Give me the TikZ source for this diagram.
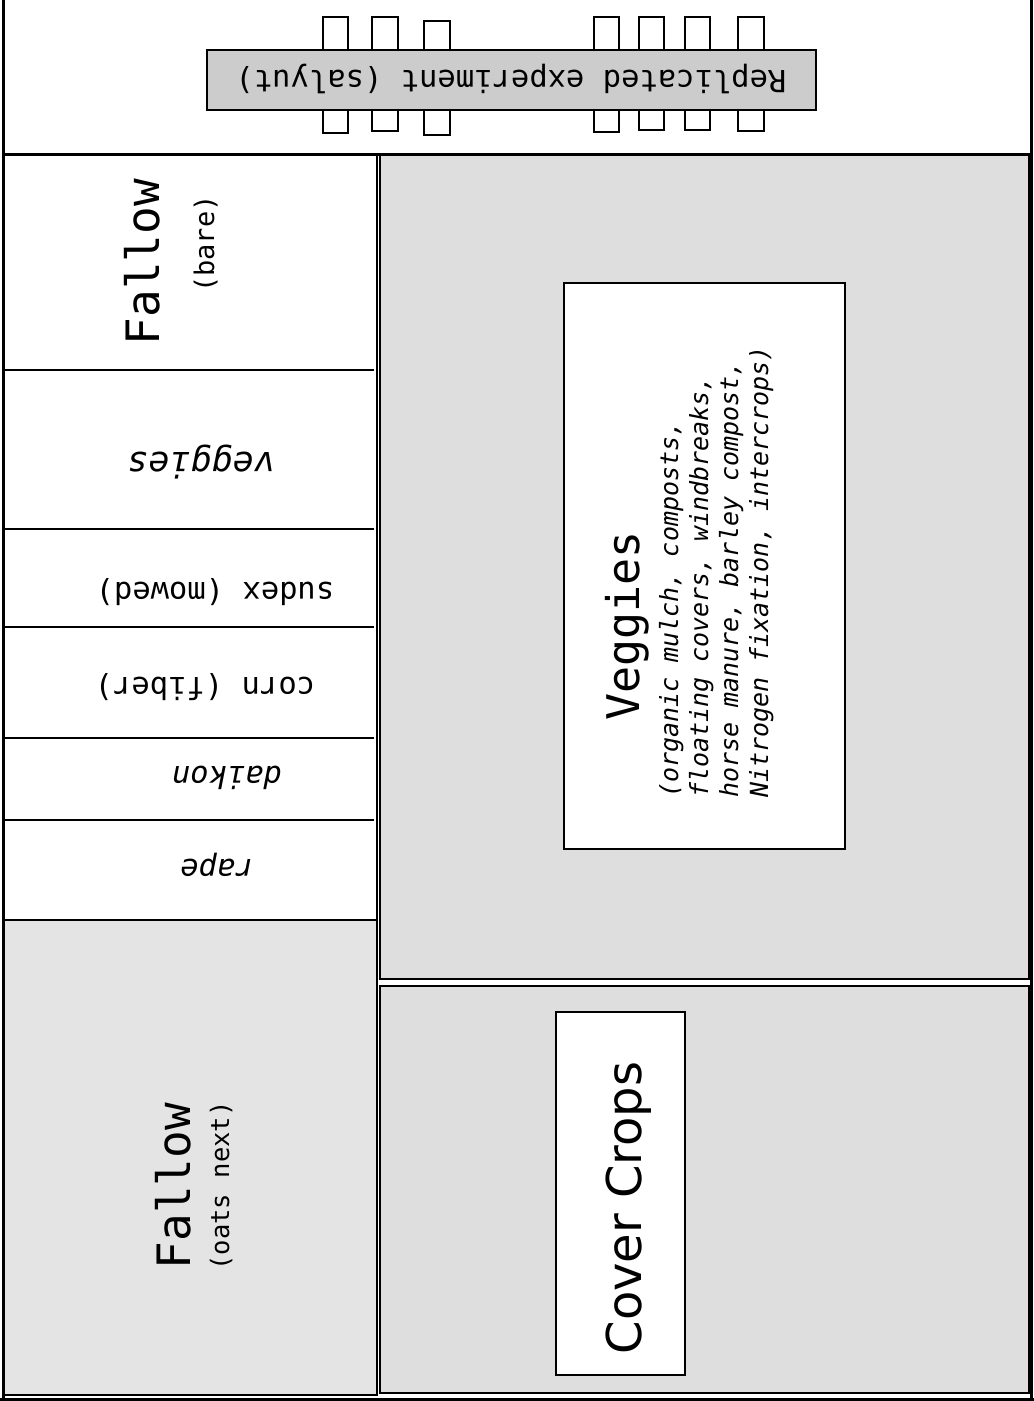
\documentclass[tikz,border=0pt]{standalone}
\usepackage{fontspec}
\setmainfont{DejaVu Sans Mono}
\newfontfamily\propfont{DejaVu Sans}
\newcommand\sz[1]{\fontsize{#1}{#1}\selectfont}
\definecolor{barGray}{HTML}{CCCCCC}
\definecolor{plotGray}{HTML}{DEDEDE}
\definecolor{fallowGray}{HTML}{E4E4E4}
\begin{document}
\begin{tikzpicture}[x=1pt,y=-1pt,
  rule/.style={line width=2pt, draw=black},
  heavy/.style={line width=3pt, draw=black},
  tab/.style={rule, fill=white},
  txt/.style={inner sep=0pt, anchor=base},
  upr/.style={txt, rotate=90},
  flip/.style={txt, rotate=180},
]
\useasboundingbox (0,0) rectangle (1034,1401);
\fill[white] (0,0) rectangle (1034,1401);

% plot tabs above and below the experiment strip
\foreach \a/\b/\t in {323/348/17, 372/398/17, 424/450/21, 594/619/17, 639/664/17, 685/710/17, 738/764/17}
  \draw[tab] (\a,\t) rectangle (\b,50);
\foreach \a/\b/\t in {323/348/133, 372/398/131, 424/450/135, 594/619/132, 639/664/130, 685/710/130, 738/764/131}
  \draw[tab] (\a,110) rectangle (\b,\t);
\draw[rule, fill=barGray] (207,50) rectangle (816,110);
\node[flip] (bar) at (511,70) {\sz{30.5}Replicated experiment (salyut)};

% left column of strips
\draw[rule, fill=fallowGray] (3,920) rectangle (377,1395);
\draw[rule] (3,154) rectangle (377,920);
\foreach \y in {370,529,627,738,820}
  \draw[rule] (3,\y) -- (374,\y);

\node[upr] (fallowA) at (159,262) {\sz{46}Fallow};
\node[upr] (bare) at (214,244) {\sz{27}(bare)};
\node[flip] (vegL) at (201,452) {\sz{35}\itshape veggies};
\node[flip] (sudex) at (215,582) {\sz{30.5}sudex (mowed)};
\node[flip] (corn) at (205,677) {\sz{30.5}corn (fiber)};
\node[flip] (daikon) at (227,766) {\sz{30.5}\itshape daikon};
\node[flip] (rape) at (217,859) {\sz{30.5}\itshape rape};
\node[upr] (fallowB) at (190,1186) {\sz{46}Fallow};
\node[upr] (oats) at (229,1186) {\sz{25.5}(oats next)};

% right column: vegetable block and cover crop block
\draw[rule, fill=plotGray] (380,154) rectangle (1029,979);
\draw[rule, fill=plotGray] (380,986) rectangle (1029,1393);
\draw[rule, fill=white] (564,283) rectangle (845,849);
\draw[rule, fill=white] (556,1012) rectangle (685,1375);

\node[upr] (vegT) at (639,626) {\sz{45}Veggies};
\node[txt, rotate=90, anchor=base west] (l1) at (678,798) {\sz{25}\itshape (organic mulch, composts,};
\node[txt, rotate=90, anchor=base west] (l2) at (708,798) {\sz{25}\itshape floating covers, windbreaks,};
\node[txt, rotate=90, anchor=base west] (l3) at (738,798) {\sz{25}\itshape horse manure, barley compost,};
\node[txt, rotate=90, anchor=base west] (l4) at (768,798) {\sz{25}\itshape Nitrogen fixation, intercrops)};

\node[upr] (cover) at (641,1208) {\propfont\sz{48}Cover Crops};

% outer frame
\draw[heavy] (3,0) -- (3,1398);
\draw[heavy] (1031,0) -- (1031,1398);
\draw[heavy] (0,1399) -- (1034,1399);
\draw[heavy] (3,154) -- (1031,154);
\end{tikzpicture}
\end{document}
